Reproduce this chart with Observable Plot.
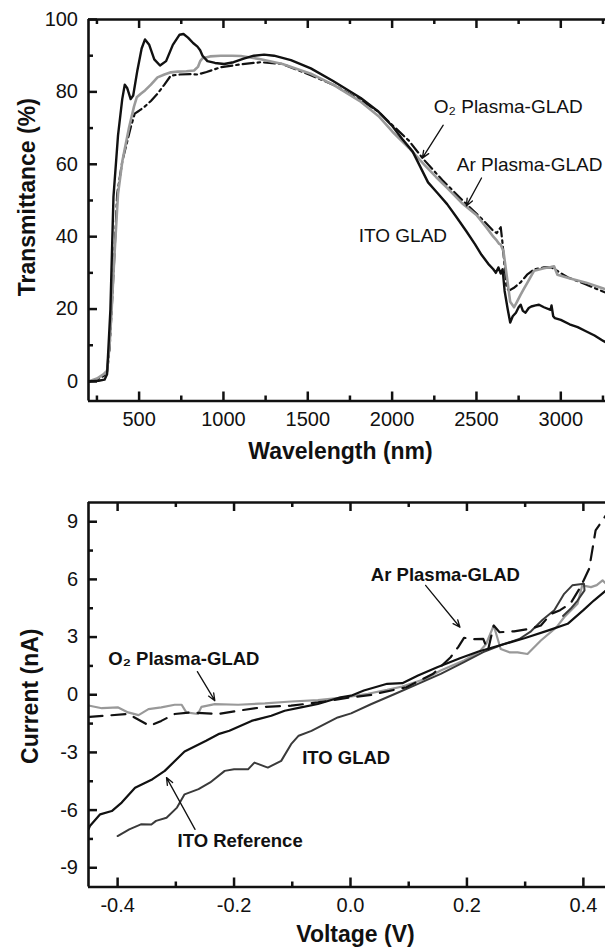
<!DOCTYPE html>
<html><head><meta charset="utf-8">
<script src="https://cdn.jsdelivr.net/npm/d3@7"></script>
<script src="https://cdn.jsdelivr.net/npm/@observablehq/plot@0.6"></script>
<style>
body{margin:0;background:#fff;}
#c{width:605px;overflow:hidden;}
#c svg{display:block;}
</style>
</head><body><div id="c"></div>
<script>
// ---------- Top panel: transmittance ----------
const itoGladNm = [200,260,295,310,330,348,375,400,415,430,450,465,490,515,535,560,590,624,660,700,740,763,790,820,846,862,876,905,950,1004,1060,1120,1180,1241,1300,1400,1518,1650,1814,1920,2002,2060,2122,2170,2213,2270,2326,2380,2440,2490,2530,2570,2600,2615,2630,2644,2655,2667,2685,2700,2715,2734,2750,2762,2775,2791,2810,2825,2850,2871,2900,2939,2945,2955,2965,3000,3052,3100,3143,3200,3252,3300];
const itoGladT  = [0,0.2,0.5,2,20,51,68,78,82,81,78,79,86,92,94.5,93,89,87.3,88.5,93,95.8,96,95,93.5,92.5,91.5,90,88.5,88,87.7,88.2,89.2,90,90.3,90,88.8,86.5,83,78.3,74.5,70.5,67,63.5,59,55,52,49,45.5,41.5,38,35,32.5,31,30,31.5,29.8,31,25,20,16.3,18,19,20.5,21.2,19.5,19,20.3,20.7,21,21.2,20.5,19.8,21,18,17.5,17,15.8,15,14,12.7,11.2,10];

const o2TopNm = [200,250,290,310,325,336,352,375,401,441,470,486,510,535,570,609,650,688,730,780,826,850,862,876,920,984,1050,1103,1160,1221,1350,1518,1650,1814,1920,2002,2100,2190,2260,2326,2420,2500,2560,2600,2621,2635,2644,2660,2680,2700,2723,2740,2762,2780,2803,2842,2900,2940,2960,2980,3050,3150,3257,3300];
const o2TopT  = [0,0.8,2,3,10,18.7,33.4,51.8,61,70.3,76,78.5,79.5,80.4,82,84,84.8,85.4,85.6,85.7,85.9,87,88.5,89.3,89.8,90,90,89.9,89.5,89,87.7,85,82,77.3,73.3,69,64.5,59.9,56.5,53.5,49,46,42.5,40,38.9,38,37.8,36,29,22,20.5,22,24,25.5,27.4,30.6,31.3,31.6,31.8,29.5,28.5,27.3,25.6,25];

const arTopNm = [200,250,290,310,325,336,352,370,401,451,474,500,530,570,609,650,688,740,800,846,900,984,1100,1221,1350,1518,1650,1814,1920,2002,2100,2180,2300,2440,2530,2598,2620,2644,2655,2678,2693,2720,2762,2800,2842,2900,2941,2980,3040,3150,3257,3300];
const arTopT  = [0,0.5,1.5,2.5,9,18.7,33.4,51.8,61,70.3,74,74.8,75.8,77.5,79.5,82,84.5,84.8,84.9,84.8,85.5,86.8,87.6,88.2,87.7,84.6,82,77.7,74.5,70.8,66.5,61.7,55.5,49,45,41.7,41,42.6,38,26,25.1,25.8,27.4,29.5,31,31.5,31.6,30.5,28.8,26.8,24.7,24];

const topXDomain = [200, 3265];
const topYDomain = [-5.4, 100];
const topXMajor = [500,1000,1500,2000,2500,3000];
const topXMinor = [250,750,1250,1750,2250,2750,3250];
const topYMajor = [0,20,40,60,80,100];
const topYMinor = [10,30,50,70,90];
const topLabels = ["O₂ Plasma-GLAD","Ar Plasma-GLAD","ITO GLAD"];
const topLabelX = [2247, 2383, 1802];
const topLabelY = [75.9, 59.9, 40.3];
const topArrowX1 = [2303, 2530], topArrowY1 = [70.8, 56.2];
const topArrowX2 = [2179, 2440], topArrowY2 = [61.7, 48.5];
const topTitles = ["Wavelength (nm)", "Transmittance (%)"];

// ---------- Bottom panel: I-V ----------
const itoRefV = [-0.45,-0.4476,-0.43,-0.41,-0.393,-0.37,-0.34,-0.319,-0.285,-0.248,-0.227,-0.208,-0.17,-0.136,-0.113,-0.085,-0.056,-0.017,0.001,0.023,0.063,0.089,0.116,0.149,0.188,0.22,0.26,0.3,0.34,0.373,0.4,0.418,0.438,0.45];
const itoRefI = [-7.0,-6.83,-6.22,-6.05,-5.61,-4.84,-4.39,-3.96,-2.95,-2.39,-2.05,-1.87,-1.36,-1.09,-0.83,-0.66,-0.48,-0.13,-0.05,0.22,0.57,0.6,1.0,1.43,1.9,2.25,2.6,2.95,3.35,3.69,4.4,4.9,5.4,5.7];

const itoGladV = [-0.4,-0.38,-0.36,-0.342,-0.334,-0.316,-0.298,-0.285,-0.261,-0.241,-0.216,-0.2,-0.176,-0.165,-0.142,-0.119,-0.102,-0.089,-0.067,-0.022,0.001,0.036,0.076,0.116,0.155,0.195,0.228,0.26,0.275,0.29,0.31,0.33,0.35,0.367,0.381,0.401,0.402,0.39,0.378,0.365];
const itoGladI = [-7.35,-7.0,-6.74,-6.75,-6.56,-6.4,-5.87,-5.18,-4.91,-4.56,-3.96,-3.87,-3.88,-3.53,-3.79,-3.44,-2.57,-2.13,-1.88,-1.18,-0.97,-0.48,0.04,0.57,1.09,1.70,2.22,2.6,2.75,2.9,3.3,3.9,4.4,5.25,5.69,5.77,5.43,4.9,4.47,4.1];

const arV = [-0.45,-0.448,-0.382,-0.345,-0.325,-0.302,-0.273,-0.227,-0.193,-0.147,-0.102,-0.056,0,0.036,0.096,0.142,0.172,0.185,0.195,0.213,0.228,0.236,0.246,0.256,0.281,0.31,0.327,0.344,0.36,0.378,0.395,0.41,0.421,0.438,0.45];
const arI = [-1.15,-1.15,-1.0,-1.62,-1.36,-1.0,-0.92,-1.0,-0.83,-0.63,-0.57,-0.40,-0.14,0.0,0.39,1.09,1.95,2.48,2.96,2.89,2.91,2.3,3.6,3.25,3.3,3.44,3.6,4.2,4.4,4.75,5.6,6.56,8.55,9.3,9.8];

const o2V = [-0.45,-0.448,-0.427,-0.399,-0.382,-0.364,-0.347,-0.325,-0.302,-0.29,-0.282,-0.262,-0.256,-0.233,-0.193,-0.147,-0.102,-0.056,-0.010,0.03,0.063,0.089,0.129,0.155,0.195,0.221,0.233,0.246,0.258,0.274,0.287,0.304,0.327,0.354,0.367,0.39,0.398,0.413,0.423,0.433,0.438,0.45];
const o2I = [-0.57,-0.57,-0.70,-0.66,-0.92,-1.06,-0.75,-0.66,-0.52,-0.52,-0.92,-1.0,-0.63,-0.49,-0.52,-0.45,-0.35,-0.28,-0.14,0.05,0.25,0.43,0.83,1.26,1.78,2.22,2.64,3.6,2.38,2.2,2.2,2.12,2.82,3.52,4.03,4.73,5.69,5.6,5.7,5.95,5.8,5.9];

const botXDomain = [-0.45, 0.438];
const botYDomain = [-10, 10];
const botXMajor = [-0.4,-0.2,0,0.2,0.4];
const botXMinor = [-0.3,-0.1,0.1,0.3];
const botYMajor = [-9,-6,-3,0,3,6,9];
const botYMinor = [-7.5,-4.5,-1.5,1.5,4.5,7.5];
const botLabels = ["Ar Plasma-GLAD","O₂ Plasma-GLAD","ITO GLAD","ITO Reference"];
const botLabelX = [0.035, -0.416, -0.083, -0.297];
const botLabelY = [6.21, 1.83, -3.27, -7.62];
const botArrowX1 = [0.129, -0.263, -0.267], botArrowY1 = [5.69, 1.2, -7.0];
const botArrowX2 = [0.188, -0.233, -0.316], botArrowY2 = [3.51, -0.31, -4.31];
const botTitles = ["Voltage (V)", "Current (nA)"];

// ---------- helpers ----------
const FONT = "'Liberation Sans', Arial, Helvetica, sans-serif";
const rows = (xs, ys) => xs.map((x, i) => ({x, y: ys[i]}));
const labelRows = (t, xs, ys) => t.map((s, i) => ({s, x: xs[i], y: ys[i]}));
const arrowRows = (x1, y1, x2, y2) => x1.map((v, i) => ({x1: v, y1: y1[i], x2: x2[i], y2: y2[i]}));
const fmtTop = d => String(d);
const fmtBot = d => d.toFixed(1);

// inward tick marks: lengths given in pixels, converted to data units of the scale
function frameMarks(pw, ph, xd, yd, xMaj, xMin, yMaj, yMin, xFmt, yFmt) {
  const tk = {stroke: "#111", strokeWidth: 2.5};
  const ux = (xd[1] - xd[0]) / pw, uy = (yd[1] - yd[0]) / ph;
  const big = 9, small = 5;
  return [
    Plot.ruleY([yd[0], yd[1]], {stroke: "#111", strokeWidth: 2.6}),
    Plot.ruleX([xd[0]], {stroke: "#111", strokeWidth: 2.6}),
    Plot.ruleX(xMaj, {x: d => d, y1: yd[0], y2: yd[0] + big * uy, ...tk}),
    Plot.ruleX(xMin, {x: d => d, y1: yd[0], y2: yd[0] + small * uy, ...tk}),
    Plot.ruleX(xMaj, {x: d => d, y1: yd[1], y2: yd[1] - big * uy, ...tk}),
    Plot.ruleX(xMin, {x: d => d, y1: yd[1], y2: yd[1] - small * uy, ...tk}),
    Plot.ruleY(yMaj, {y: d => d, x1: xd[0], x2: xd[0] + big * ux, ...tk}),
    Plot.ruleY(yMin, {y: d => d, x1: xd[0], x2: xd[0] + small * ux, ...tk}),
    Plot.axisX(xMaj, {anchor: "bottom", tickSize: 0, tickPadding: 11, fontSize: 20, tickFormat: xFmt, label: null, fill: "#111"}),
    Plot.axisY(yMaj, {anchor: "left", tickSize: 0, tickPadding: 10.5, fontSize: 20, tickFormat: yFmt, label: null, fill: "#111"})
  ];
}

const TW = 605, TH = 470, TML = 88, TMR = 0, TMT = 19, TMB = 69.5;
const topPlot = Plot.plot({
  width: TW, height: TH,
  marginLeft: TML, marginRight: TMR, marginTop: TMT, marginBottom: TMB,
  style: {fontFamily: FONT, background: "#fff", color: "#111"},
  x: {domain: topXDomain, label: null},
  y: {domain: topYDomain, label: null},
  marks: [
    Plot.line(rows(arTopNm, arTopT), {x: "x", y: "y", stroke: "#111", strokeWidth: 2.2, strokeDasharray: "11,4,2.5,4", clip: true}),
    Plot.line(rows(o2TopNm, o2TopT), {x: "x", y: "y", stroke: "#9a9a9a", strokeWidth: 2.6, clip: true}),
    Plot.line(rows(itoGladNm, itoGladT), {x: "x", y: "y", stroke: "#111", strokeWidth: 2.4, clip: true}),
    Plot.arrow(arrowRows(topArrowX1, topArrowY1, topArrowX2, topArrowY2), {x1: "x1", y1: "y1", x2: "x2", y2: "y2", stroke: "#111", strokeWidth: 1.3, headLength: 9, headAngle: 45}),
    Plot.text(labelRows(topLabels, topLabelX, topLabelY), {x: "x", y: "y", text: "s", textAnchor: "start", lineAnchor: "middle", fontSize: 19, fill: "#111"}),
    ...frameMarks(TW - TML - TMR, TH - TMT - TMB, topXDomain, topYDomain, topXMajor, topXMinor, topYMajor, topYMinor, fmtTop, fmtTop),
    Plot.text([topTitles[0]], {text: d => d, frameAnchor: "bottom", dx: -6.5, dy: 50.5, textAnchor: "middle", lineAnchor: "middle", fontSize: 23, fontWeight: "bold", fill: "#111"}),
    Plot.text([topTitles[1]], {text: d => d, frameAnchor: "left", dx: -61.3, dy: -13, rotate: -90, textAnchor: "middle", lineAnchor: "middle", fontSize: 23, fontWeight: "bold", fill: "#111"})
  ]
});

const BW = 605, BH = 477, BML = 88, BMR = 0, BMT = 32, BMB = 60.5;
const botPlot = Plot.plot({
  width: BW, height: BH,
  marginLeft: BML, marginRight: BMR, marginTop: BMT, marginBottom: BMB,
  style: {fontFamily: FONT, background: "#fff", color: "#111"},
  x: {domain: botXDomain, label: null},
  y: {domain: botYDomain, label: null},
  marks: [
    Plot.line(rows(o2V, o2I), {x: "x", y: "y", stroke: "#999", strokeWidth: 2.2, clip: true}),
    Plot.line(rows(itoGladV, itoGladI), {x: "x", y: "y", stroke: "#3a3a3a", strokeWidth: 2, clip: true}),
    Plot.line(rows(itoRefV, itoRefI), {x: "x", y: "y", stroke: "#111", strokeWidth: 2.2, clip: true}),
    Plot.line(rows(arV, arI), {x: "x", y: "y", stroke: "#111", strokeWidth: 2.2, strokeDasharray: "14,9", clip: true}),
    Plot.arrow(arrowRows(botArrowX1, botArrowY1, botArrowX2, botArrowY2), {x1: "x1", y1: "y1", x2: "x2", y2: "y2", stroke: "#111", strokeWidth: 1.3, headLength: 9, headAngle: 45}),
    Plot.text(labelRows(botLabels, botLabelX, botLabelY), {x: "x", y: "y", text: "s", textAnchor: "start", lineAnchor: "middle", fontSize: 18.5, fontWeight: "bold", fill: "#111"}),
    ...frameMarks(BW - BML - BMR, BH - BMT - BMB, botXDomain, botYDomain, botXMajor, botXMinor, botYMajor, botYMinor, fmtBot, fmtTop),
    Plot.text([botTitles[0]], {text: d => d, frameAnchor: "bottom", dx: 8.5, dy: 48, textAnchor: "middle", lineAnchor: "middle", fontSize: 23, fontWeight: "bold", fill: "#111"}),
    Plot.text([botTitles[1]], {text: d => d, frameAnchor: "left", dx: -58, dy: 1.5, rotate: -90, textAnchor: "middle", lineAnchor: "middle", fontSize: 23, fontWeight: "bold", fill: "#111"})
  ]
});

const c = document.getElementById("c");
c.appendChild(topPlot);
c.appendChild(botPlot);
</script></body></html>
